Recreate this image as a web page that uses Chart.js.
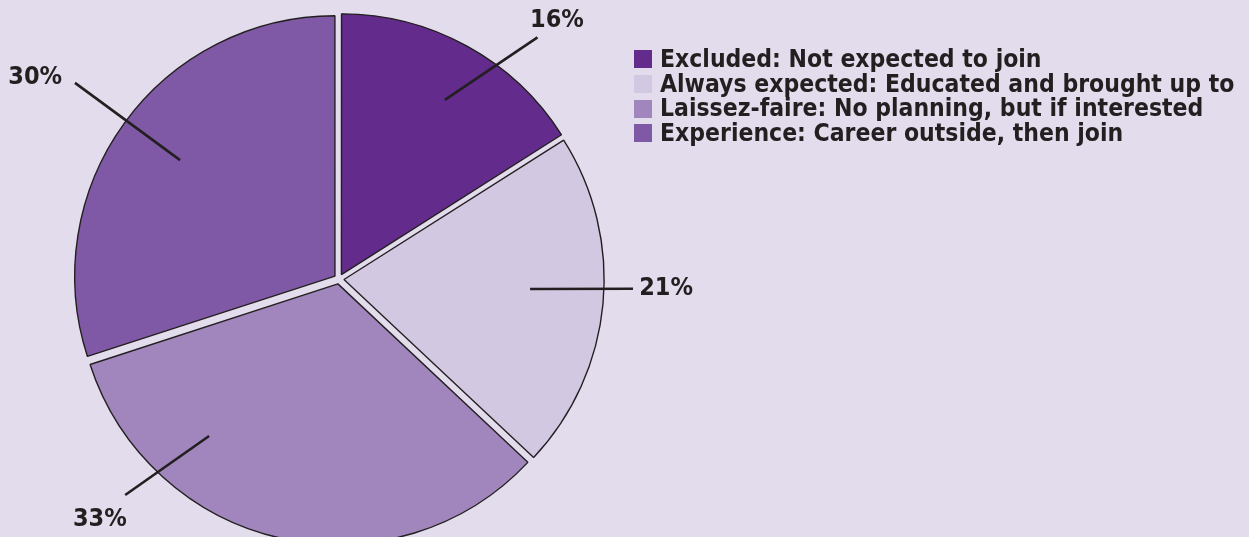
<!DOCTYPE html>
<html>
<head>
<meta charset="utf-8">
<script src="https://cdn.jsdelivr.net/npm/chart.js@4.4.0/dist/chart.umd.min.js"></script>
<style>
  html, body { margin: 0; padding: 0; background: #e2dcec; overflow: hidden; }
  #wrap { position: relative; width: 1249px; height: 537px; overflow: hidden; }
  #chartPie { position: absolute; left: 0; top: 0; }
  #legend {
    position: absolute; left: 634px; top: 47px; margin: 0; padding: 0; list-style: none;
    font-family: "DejaVu Sans Condensed", "DejaVu Sans", sans-serif; font-weight: bold;
    font-size: 24.5px; line-height: 24.7px; color: #231f20;
  }
  #legend li { white-space: nowrap; display: flex; align-items: center; }
  #legend .box { width: 18px; height: 18px; margin-right: 8px; flex: none; }
</style>
</head>
<body>
<div id="wrap">
  <canvas id="chartPie" width="1249" height="600"></canvas>
  <ul id="legend"></ul>
</div>
<script>
const categories = [
  "Excluded: Not expected to join",
  "Always expected: Educated and brought up to",
  "Laissez-faire: No planning, but if interested",
  "Experience: Career outside, then join",
];
const shares = [16, 21, 33, 30];
const sliceColors = ["#632b8c", "#d3c8e2", "#a186be", "#8059a6"];

// leader line ends and label spot, as [angle clockwise from top, fraction of radius]
const leaderLines = {
  id: "leaderLines",
  afterDatasetsDraw(chart, args, opts) {
    const ctx = chart.ctx;
    const meta = chart.getDatasetMeta(0);
    ctx.save();
    ctx.strokeStyle = "#231f20";
    ctx.fillStyle = "#231f20";
    ctx.lineWidth = 2.6;
    ctx.font = opts.font;
    ctx.textAlign = "center";
    ctx.textBaseline = "middle";
    meta.data.forEach((arc, i) => {
      const spot = opts.spots[i];
      const at = ([deg, f]) => {
        const a = (deg - 90) * Math.PI / 180;
        return [arc.x + Math.cos(a) * 265 * f, arc.y + Math.sin(a) * 265 * f];
      };
      const p1 = at(spot.from);
      const p2 = at(spot.to);
      ctx.beginPath();
      ctx.moveTo(p1[0], p1[1]);
      ctx.lineTo(p2[0], p2[1]);
      ctx.stroke();
      const t = at(spot.label);
      ctx.fillText(shares[i] + "%", t[0], t[1]);
    });
    ctx.restore();
  },
};

const legend = document.getElementById("legend");
categories.forEach((name, i) => {
  const li = document.createElement("li");
  const box = document.createElement("span");
  box.className = "box";
  box.style.background = sliceColors[i];
  li.appendChild(box);
  li.appendChild(document.createTextNode(name));
  legend.appendChild(li);
});

const chartPie = new Chart(document.getElementById("chartPie").getContext("2d"), {
  type: "pie",
  data: {
    labels: categories,
    datasets: [
      {
        data: shares,
        backgroundColor: sliceColors,
        borderColor: "#231f20",
        borderWidth: 1.4,
        offset: 20,
      },
    ],
  },
  options: {
    responsive: false,
    animation: false,
    radius: 260,
    layout: { padding: { left: 0, top: 0, right: 571, bottom: 42 } },
    plugins: {
      legend: { display: false },
      tooltip: { enabled: false },
      leaderLines: {
        font: "bold 25px 'DejaVu Sans Condensed', 'DejaVu Sans', sans-serif",
        spots: [
          { from: [30.6, 0.785], to: [39.4, 1.18], label: [40.1, 1.277] },
          { from: [93.0, 0.722], to: [91.9, 1.11], label: [91.75, 1.235] },
          { from: [219.6, 0.769], to: [224.7, 1.147], label: [224.8, 1.281] },
          { from: [306.8, 0.749], to: [306.6, 1.241], label: [303.5, 1.375] },
        ],
      },
    },
  },
  plugins: [leaderLines],
});
</script>
</body>
</html>
